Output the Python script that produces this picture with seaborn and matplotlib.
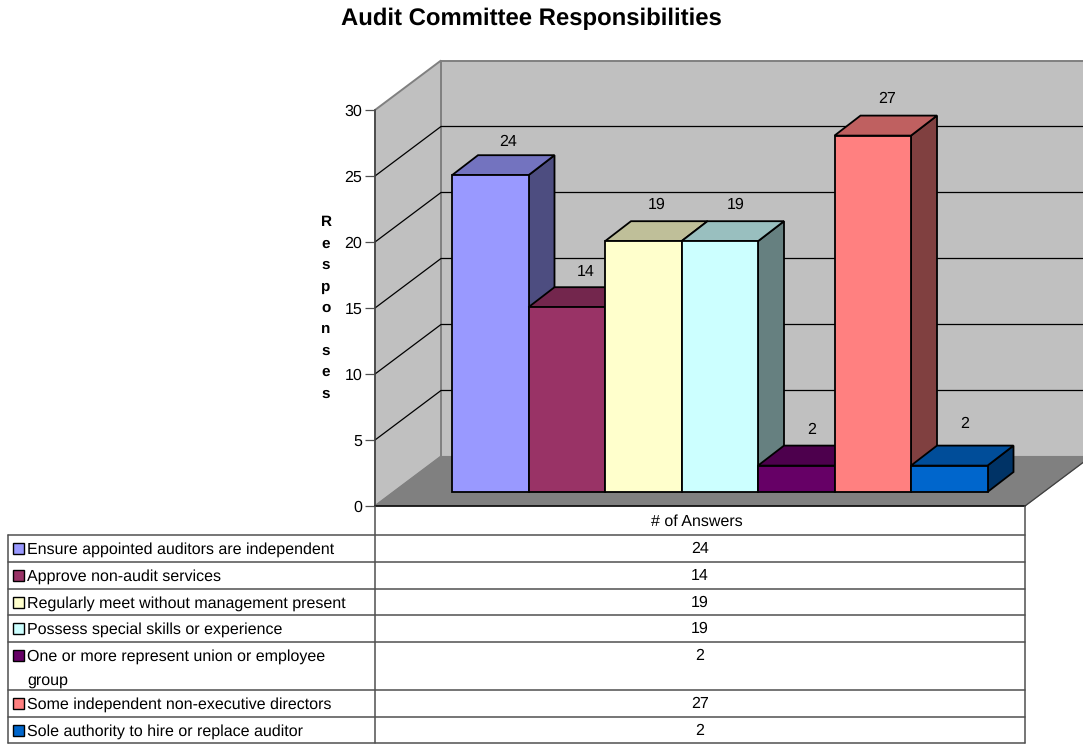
import matplotlib
matplotlib.use('Agg')
import matplotlib.pyplot as plt
from matplotlib.colors import to_rgb
from matplotlib.patches import Polygon, Rectangle
import numpy as np
import pandas as pd
import seaborn as sns

title = 'Audit Committee Responsibilities'
table_header = '# of Answers'
y_label = 'Responses'
responses = ['Ensure appointed auditors are independent',
             'Approve non-audit services',
             'Regularly meet without management present',
             'Possess special skills or experience',
             'One or more represent union or employee\ngroup',
             'Some independent non-executive directors',
             'Sole authority to hire or replace auditor']
answers = [24, 14, 19, 19, 2, 27, 2]
y_ticks = [0, 5, 10, 15, 20, 25, 30]
colors = ['#9999FF', '#993366', '#FFFFCC', '#CCFFFF', '#660066', '#FF8080', '#0066CC']

W, H = 1083, 744
FONT = 11.55

sns.set_theme(style='white')
plt.rcParams['font.family'] = ['Liberation Sans', 'DejaVu Sans']
plt.rcParams['text.hinting'] = 'no_hinting'

def px_axes(fig, left, top, right, bottom, **kw):
    return fig.add_axes([left / W, 1 - bottom / H, (right - left) / W, (bottom - top) / H], **kw)

fig = plt.figure(figsize=(W / 100, H / 100), dpi=100, facecolor='white')
fig.text(531 / W, 1 - 19 / H, title, ha='center', va='center', fontsize=17.2, fontweight='bold', color='black')

# walls and floor, x in pixels from the axis, y in answers
wall = px_axes(fig, 375, 110, 1025, 506, zorder=1)
wall.patch.set_visible(False)
wall.set_xlim(0, 650)
wall.set_ylim(0, 30)
dx, dy = 66, 3.75
wall_grey, floor_grey = '#C0C0C0', '#808080'
wall.add_patch(Polygon([(dx, dy), (650 + dx, dy), (650 + dx, 30 + dy), (dx, 30 + dy)], fc=wall_grey, ec=floor_grey, lw=1.4, clip_on=False))
wall.add_patch(Polygon([(0, 0), (dx, dy), (dx, 30 + dy), (0, 30)], fc=wall_grey, ec=floor_grey, lw=1.4, clip_on=False))
wall.add_patch(Polygon([(0, 0), (650, 0), (650 + dx, dy), (dx, dy)], fc=floor_grey, ec=floor_grey, lw=0.8, clip_on=False))
for t in y_ticks[1:-1]:
    wall.plot([0, dx, 650 + dx], [t, t + dy, t + dy], color='black', lw=0.9, clip_on=False)
wall.plot([650, 650 + dx], [0, dy], color='#404040', lw=0.9, clip_on=False)
for side in ['top', 'right']:
    wall.spines[side].set_visible(False)
wall.spines['left'].set_color('#404040')
wall.spines['left'].set_linewidth(1.1)
wall.spines['bottom'].set_color('black')
wall.spines['bottom'].set_linewidth(1.1)
wall.set_xticks([])
wall.set_yticks(y_ticks)
wall.tick_params(axis='y', left=True, length=7.2, width=0.9, color='#505050', labelsize=FONT, pad=2, labelcolor='black')
wall.set_ylabel('\n'.join(y_label), rotation=0, ha='center', va='center', fontsize=11, fontweight='bold', linespacing=1.68, color='black')
wall.yaxis.set_label_coords(-49 / 650, (506 - 308) / 396)

# bars, front faces come from seaborn
df = pd.DataFrame({'response': responses, 'answers': answers})
ax = px_axes(fig, 452, 96, 987.5, 492, zorder=2)
ax.patch.set_visible(False)
sns.barplot(data=df, x='response', y='answers', hue='response', palette=colors, saturation=1,
            width=1, edgecolor='black', linewidth=1.3, legend=False, ax=ax)
ax.set_xlim(-0.5, 6.5)
ax.set_ylim(0, 30)
ax.axis('off')

bdx = 26 / (535.5 / 7)
bdy = 20 / 13.2
label_off = [(18, 33), (19, 35), (13, 36), (16, 36), (15, 36), (14, 37), (15, 42)]
for i, (bar, val, col) in enumerate(zip(ax.patches, answers, colors)):
    x0, x1 = bar.get_x(), bar.get_x() + bar.get_width()
    rgb = np.array(to_rgb(col))
    z = 3 + i * 3
    ax.add_patch(Polygon([(x1, 0), (x1 + bdx, bdy), (x1 + bdx, val + bdy), (x1, val)], fc=rgb * 0.5, ec='black', lw=1.3, clip_on=False, zorder=z))
    ax.add_patch(Polygon([(x0, val), (x1, val), (x1 + bdx, val + bdy), (x0 + bdx, val + bdy)], fc=rgb * 0.75, ec='black', lw=1.3, clip_on=False, zorder=z + 1))
    bar.set_zorder(z + 2)
    bar.set_clip_on(False)
    ax.annotate(str(val), (i, val), xytext=label_off[i], textcoords='offset pixels', ha='center', va='center',
                fontsize=FONT, color='black', zorder=50, annotation_clip=False)

# data table below the chart, y in pixels
tbl = px_axes(fig, 0, 0, W, H, zorder=3)
tbl.patch.set_visible(False)
tbl.set_xlim(0, W)
tbl.set_ylim(H, 0)
tbl.axis('off')
line_col = '#505050'
row_tops = [535, 562, 589, 615, 642, 690, 717, 743]
for y in row_tops:
    tbl.plot([8, 1025], [y, y], color=line_col, lw=1.1)
tbl.plot([8, 8], [535, 743], color=line_col, lw=1.1)
tbl.plot([375, 375], [506, 743], color=line_col, lw=1.1)
tbl.plot([1025, 1025], [506, 743], color=line_col, lw=1.1)
tbl.text(697, 521.5, table_header, ha='center', va='center', fontsize=FONT, color='black')
for top, name, val, col in zip(row_tops, responses, answers, colors):
    cy = top + 13.5
    tbl.add_patch(Rectangle((12.5, cy - 5.5), 11, 11, fc=col, ec='black', lw=1))
    for j, part in enumerate(name.split('\n')):
        tbl.text(27, cy + 0.7 + j * 24, part, ha='left', va='center', fontsize=FONT, color='black')
    tbl.text(700, cy + 0.7, str(val), ha='center', va='center', fontsize=FONT, color='black')

fig.savefig('out.png', dpi=100)
